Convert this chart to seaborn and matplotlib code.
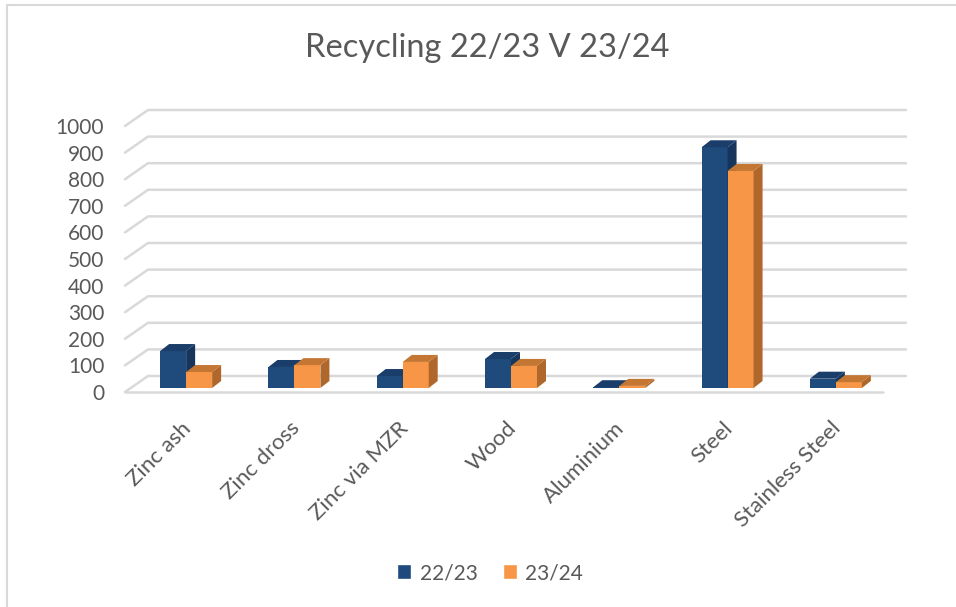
import pandas as pd
import matplotlib
matplotlib.use("Agg")
import matplotlib.pyplot as plt
import seaborn as sns
from matplotlib.patches import Polygon, Patch
from matplotlib.lines import Line2D
from matplotlib.transforms import IdentityTransform, ScaledTranslation

categories = ["Zinc ash", "Zinc dross", "Zinc via MZR", "Wood", "Aluminium", "Steel", "Stainless Steel"]
seasons = ["22/23", "23/24"]
tonnes_2223 = [139, 79, 45, 109, 3, 905, 35]
tonnes_2324 = [60, 86, 98, 83, 8, 816, 22]
y_ticks = list(range(0, 1001, 100))

front_colours = ["#1F4A7C", "#F79646"]
side_colours = ["#16355C", "#B0672B"]
top_colours = ["#1A3D69", "#C47633"]
grid_colour = "#D9D9D9"
text_colour = "#595959"

df = pd.DataFrame({
    "material": categories * 2,
    "season": [seasons[0]] * len(categories) + [seasons[1]] * len(categories),
    "tonnes": tonnes_2223 + tonnes_2324,
})

sns.set_theme(style="white")
plt.rcParams["font.family"] = ["Lato", "DejaVu Sans"]

W, H = 956, 607
fig = plt.figure(figsize=(W / 100, H / 100), dpi=100)
ax = fig.add_axes([125 / W, (H - 392) / H, 758 / W, 266 / H])

sns.barplot(data=df, x="material", y="tonnes", hue="season", palette=front_colours,
            width=0.48, saturation=1, legend=False, linewidth=0, ax=ax)

ax.set_xlim(-0.5, 6.5)
ax.set_ylim(0, 1000)
for s in ax.spines.values():
    s.set_visible(False)
ax.patch.set_alpha(0)
ax.set_xlabel("")
ax.set_ylabel("")
ax.set_yticks(y_ticks)
ax.set_yticklabels([str(v) for v in y_ticks])
ax.tick_params(axis="y", length=0, pad=15, labelsize=15, colors=text_colour)
ax.set_xticks([])

to_px = ax.transData.transform
px = lambda x, y: ScaledTranslation(x / 100, y / 100, fig.dpi_scale_trans)

# back wall grid + left wall diagonals + floor front edge
back_dx, back_dy = 23, 16
for v in y_ticks:
    (x0, y), (x1, _) = to_px([(-0.5, v), (6.5, v)])
    fig.add_artist(Line2D([x0, x0 + back_dx, x1 + back_dx], [y, y + back_dy, y + back_dy],
                          transform=IdentityTransform(), color=grid_colour, lw=1.8, zorder=-1))
(x0, y), (x1, _) = to_px([(-0.5, 0), (6.5, 0)])
fig.add_artist(Line2D([x0, x1], [y, y], transform=IdentityTransform(),
                      color=grid_colour, lw=1.8, zorder=-1))

# pseudo 3D bars: shift front faces to mid depth, add side and top faces
shift_x, shift_y = 7, 4
dx, dy = 9, 7
for h, cont in enumerate(ax.containers):
    for bar in cont:
        x_left = bar.get_x()
        (bx0, by0), (bx1, by1) = to_px([(x_left, 0), (x_left + bar.get_width(), bar.get_height())])
        bx0 += shift_x; bx1 += shift_x; by0 += shift_y; by1 += shift_y
        bar.set_transform(ax.transData + px(shift_x, shift_y))
        bar.set_zorder(2 + h)
        side = Polygon([(bx1, by0), (bx1, by1), (bx1 + dx, by1 + dy), (bx1 + dx, by0 + dy)],
                       closed=True, transform=IdentityTransform(), facecolor=side_colours[h],
                       edgecolor="none", zorder=2.1 + h, clip_on=False)
        top = Polygon([(bx0, by1), (bx1, by1), (bx1 + dx, by1 + dy), (bx0 + dx, by1 + dy)],
                      closed=True, transform=IdentityTransform(), facecolor=top_colours[h],
                      edgecolor="none", zorder=2.2 + h, clip_on=False)
        ax.add_patch(side)
        ax.add_patch(top)

# rotated category labels
for i, name in enumerate(categories):
    ax.text(i, 0, name, rotation=45, ha="right", va="top", rotation_mode="anchor",
            fontsize=16, color=text_colour, transform=ax.transData + px(2, -26))

fig.text(487 / W, (H - 48) / H, "Recycling 22/23 V 23/24", ha="center", va="center",
         fontsize=23.5, color=text_colour)

handles = [Patch(facecolor=c, label=s) for c, s in zip(front_colours, seasons)]
fig.legend(handles=handles, loc="center", bbox_to_anchor=(490 / W, (H - 573) / H), ncol=2,
           frameon=False, fontsize=15, handlelength=0.7, handleheight=0.7,
           handletextpad=0.4, columnspacing=1.2, labelcolor=text_colour)

# chart frame
fig.add_artist(Line2D([7, 7, W], [0, H - 5, H - 5], transform=IdentityTransform(),
                      color=grid_colour, lw=1.5, zorder=-1))

fig.savefig("out.png", dpi=100)
